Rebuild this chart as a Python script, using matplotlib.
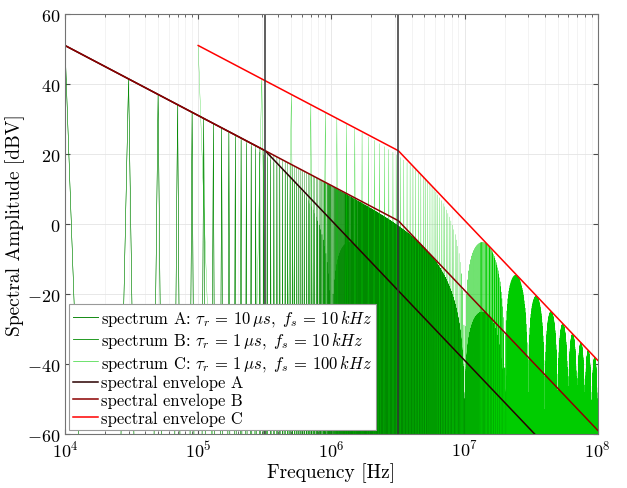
import numpy as np
import matplotlib
matplotlib.use("Agg")
import matplotlib.pyplot as plt

# pulse-train parameters (rise time as drawn, switching frequency, duty cycle)
names = ["A", "B", "C"]
rise_times = [1e-6, 1e-7, 1e-7]
switch_freqs = [1e4, 1e4, 1e5]
duty = 0.5
peak_dbv = 51.0          # level of the fundamental
f_max = 1e8

spec_labels = [
    r"spectrum A: $\tau_r\,=\,10\,\mu s,\ f_s\,=\,10\,kHz$",
    r"spectrum B: $\tau_r\,=\,1\,\mu s,\ f_s\,=\,10\,kHz$",
    r"spectrum C: $\tau_r\,=\,1\,\mu s,\ f_s\,=\,100\,kHz$",
]
env_labels = ["spectral envelope A", "spectral envelope B", "spectral envelope C"]

spec_colors = ["#138a13", "#008a00", "#00cc00"]
spec_widths = [0.3, 0.3, 0.2]
legend_widths = [0.7, 0.6, 0.4]
env_colors = ["#2a0000", "#8c0000", "#ff0000"]

plt.rcParams["font.family"] = "cmr10"
plt.rcParams["mathtext.fontset"] = "cm"
plt.rcParams["axes.formatter.use_mathtext"] = True
plt.rcParams["axes.unicode_minus"] = False


def spectrum(tr, fs):
    n = np.arange(1, int(round(f_max / fs)) + 1)
    T = 1.0 / fs
    amp = 10 ** (peak_dbv / 20) / (2 * duty * np.sinc(duty))
    c = 2 * amp * duty * np.abs(np.sinc(n * duty)) * np.abs(np.sinc(n * tr / T))
    return n * fs, 20 * np.log10(c + 1e-300)


def envelope(tr, fs):
    fc = 1.0 / (np.pi * tr)
    f = np.array([fs, fc, f_max])
    lvl = np.where(f <= fc,
                   peak_dbv - 20 * np.log10(f / fs),
                   peak_dbv - 20 * np.log10(fc / fs) - 40 * np.log10(f / fc))
    return f, lvl


fig = plt.figure(figsize=(6.27, 4.89), dpi=100)
ax = fig.add_axes([0.1037, 0.1104, 0.8496, 0.8589])

for tr, fs, col, lw, lab in zip(rise_times, switch_freqs, spec_colors, spec_widths, spec_labels):
    f, s = spectrum(tr, fs)
    ax.plot(f, s, color=col, lw=lw, label=lab)

for tr, fs, col, lab in zip(rise_times, switch_freqs, env_colors, env_labels):
    f, e = envelope(tr, fs)
    ax.plot(f, e, color=col, lw=1.1, label=lab)

for fc in sorted(set(1.0 / (np.pi * np.array(rise_times)))):
    ax.axvline(fc, color="0.2", lw=1.1)

ax.set_xscale("log")
ax.set_xlim(1e4, 1e8)
ax.set_ylim(-60, 60)
ax.set_yticks(np.arange(-60, 61, 20))
ax.grid(True, which="major", color="#e4e4e4", lw=0.6)
ax.grid(True, which="minor", axis="x", color="#eeeeee", lw=0.5)
ax.set_axisbelow(True)
ax.tick_params(which="both", direction="in", top=True, right=True, labelsize=13,
               color="0.3")
for sp in ax.spines.values():
    sp.set_color("0.45")

ax.set_xlabel("Frequency [Hz]", fontsize=14, labelpad=2)
ax.set_ylabel("Spectral Amplitude [dBV]", fontsize=14, labelpad=1)

leg = ax.legend(loc="lower left", fontsize=12, fancybox=False, framealpha=1,
                edgecolor="0.6", borderaxespad=0.25, handlelength=1.5,
                handletextpad=0.15, labelspacing=0.14, borderpad=0.25)
leg.get_frame().set_linewidth(0.8)
for h, w in zip(leg.get_lines()[:3], legend_widths):
    h.set_linewidth(w)

fig.savefig("out.png", dpi=100)
